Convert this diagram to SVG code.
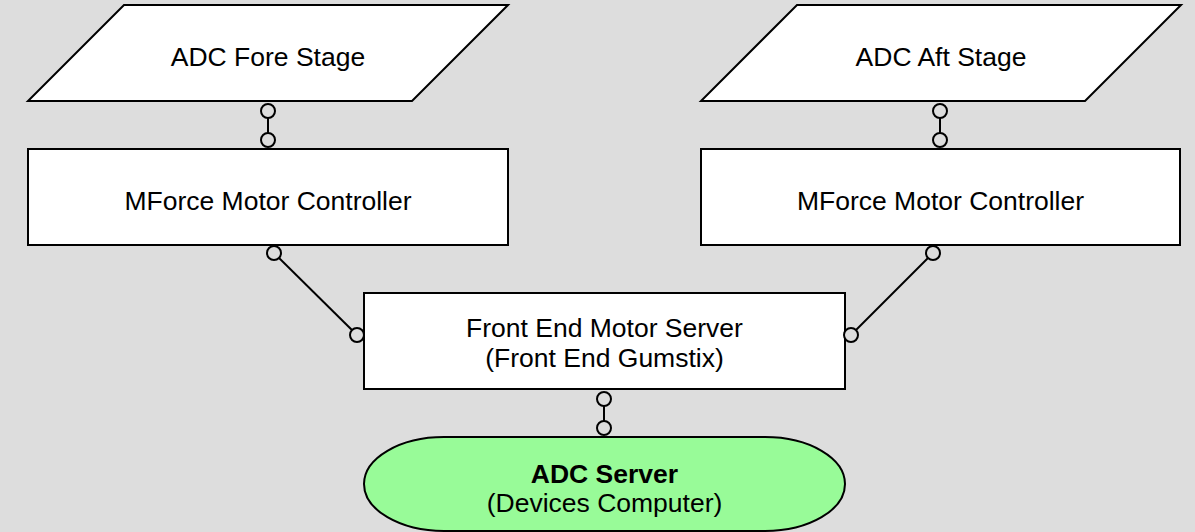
<svg xmlns="http://www.w3.org/2000/svg" width="1195" height="532" viewBox="0 0 1195 532">
  <style>
    .shape { fill: #ffffff; stroke: #000000; stroke-width: 2; }
    .server { fill: #98fb98; stroke: #000000; stroke-width: 2; }
    .label { font-family: "Liberation Sans", Arial, sans-serif; font-size: 26.5px; fill: #000000; text-anchor: middle; }
    .bold { font-weight: bold; }
    .conn { stroke: #000000; stroke-width: 2; fill: none; }
    .port { fill: #dddddd; stroke: #000000; stroke-width: 2; }
  </style>
  <rect x="0" y="0" width="1195" height="532" fill="#dddddd"/>

  <g id="connectors">
    <line class="conn" x1="268" y1="111" x2="268" y2="140"/>
    <line class="conn" x1="940" y1="111" x2="940" y2="140"/>
    <line class="conn" x1="274" y1="253" x2="357" y2="335"/>
    <line class="conn" x1="933" y1="253" x2="851" y2="335"/>
    <line class="conn" x1="604" y1="399" x2="604" y2="428"/>
  </g>

  <g id="fore-stage">
    <polygon class="shape" points="124,5 508,5 412,101 28,101"/>
    <text class="label" x="268" y="66">ADC Fore Stage</text>
  </g>

  <g id="aft-stage">
    <polygon class="shape" points="797,5 1181,5 1085,101 701,101"/>
    <text class="label" x="941" y="66">ADC Aft Stage</text>
  </g>

  <g id="mforce-left">
    <rect class="shape" x="28" y="149" width="480" height="96"/>
    <text class="label" x="268" y="210">MForce Motor Controller</text>
  </g>

  <g id="mforce-right">
    <rect class="shape" x="701" y="149" width="479" height="96"/>
    <text class="label" x="940.5" y="210">MForce Motor Controller</text>
  </g>

  <g id="front-end">
    <rect class="shape" x="364" y="293" width="481" height="96"/>
    <text class="label" x="604.5" y="337">Front End Motor Server</text>
    <text class="label" x="604.5" y="367">(Front End Gumstix)</text>
  </g>

  <g id="adc-server">
    <rect class="server" x="364" y="437" width="481" height="94" rx="80" ry="47"/>
    <text class="label bold" x="604.5" y="483">ADC Server</text>
    <text class="label" x="604.5" y="512">(Devices Computer)</text>
  </g>

  <g id="ports">
    <circle class="port" cx="268" cy="111" r="7"/>
    <circle class="port" cx="268" cy="140" r="7"/>
    <circle class="port" cx="940" cy="111" r="7"/>
    <circle class="port" cx="940" cy="140" r="7"/>
    <circle class="port" cx="274" cy="253" r="7"/>
    <circle class="port" cx="357" cy="335" r="7"/>
    <circle class="port" cx="933" cy="253" r="7"/>
    <circle class="port" cx="851" cy="335" r="7"/>
    <circle class="port" cx="604" cy="399" r="7"/>
    <circle class="port" cx="604" cy="428" r="7"/>
  </g>
</svg>
